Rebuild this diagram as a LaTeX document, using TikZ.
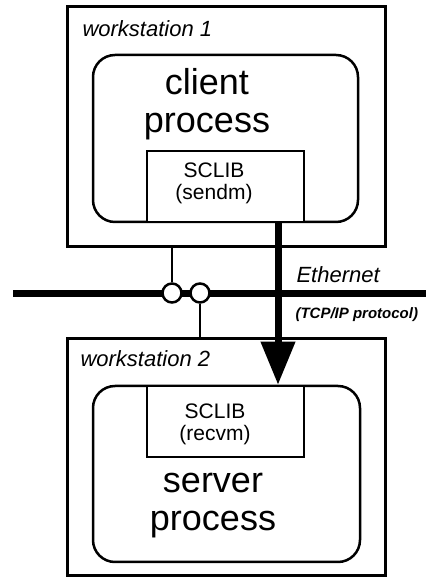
\documentclass[tikz,border=0pt]{standalone}
\usepackage{fontspec}
\setmainfont{Liberation Sans}
\usetikzlibrary{arrows.meta}
\begin{document}
\begin{tikzpicture}[x=1pt, y=1pt,
  station/.style={draw, line width=3pt, inner sep=0pt},
  proc/.style={draw, line width=2.5pt, rounded corners=22pt, inner sep=0pt},
  lib/.style={draw, line width=2.5pt, fill=white, inner sep=0pt},
  tap/.style={circle, draw, fill=white, line width=2.5pt, minimum size=19pt, inner sep=0pt},
  big/.style={font=\fontsize{36}{38}\selectfont, align=center},
  small/.style={font=\fontsize{21}{22}\selectfont, align=center},
  tag/.style={font=\fontsize{22}{24}\selectfont\itshape, anchor=base west}]
  \useasboundingbox (0,0) rectangle (426,578);
  % workstation 1
  \node[station, minimum width=318pt, minimum height=240pt] (ws1) at (226,451) {};
  \node[proc, minimum width=265pt, minimum height=167pt] (proc1) at (225.5,439.5) {};
  \node[lib, minimum width=157pt, minimum height=71pt] (send) at (225.5,391.5) {};
  \node[tag] (ws1 label) at (79,541) {workstation 1};
  \node[big] (client) at (207,474) {client\\process};
  \node[small] (send label) at (214,395) {SCLIB\\(sendm)};
  % workstation 2
  \node[station, minimum width=318pt, minimum height=237pt] (ws2) at (226,120.5) {};
  \node[proc, minimum width=267pt, minimum height=176pt] (proc2) at (226.5,104) {};
  \node[lib, minimum width=157pt, minimum height=71pt] (recv) at (225.5,156.5) {};
  \node[tag] (ws2 label) at (77,211) {workstation 2};
  \node[big] (server) at (213,72) {server\\process};
  \node[small] (recv label) at (215,154) {SCLIB\\(recvm)};
  % ethernet
  \coordinate (eth w) at (13,284);
  \coordinate (eth e) at (426,284);
  \draw[line width=7pt] (eth w) -- (eth e);
  \node[tag] (eth label) at (293,295) {Ethernet};
  \node[font=\fontsize{15}{16}\selectfont\bfseries\itshape, anchor=base west] (proto) at (292,259) {(TCP/IP protocol)};
  \node[tap] (tap1) at (172,285) {};
  \node[tap] (tap2) at (200,285) {};
  \draw[line width=1.5pt] (ws1.south -| tap1) -- (tap1.north);
  \draw[line width=1.5pt] (tap2.south) -- (ws2.north -| tap2);
  % message
  \coordinate (msg) at (278,0);
  \draw[line width=7pt, -{Triangle[length=43pt,width=33pt]}] (send.south -| msg) -- (proc2.north -| msg);
\end{tikzpicture}
\end{document}
